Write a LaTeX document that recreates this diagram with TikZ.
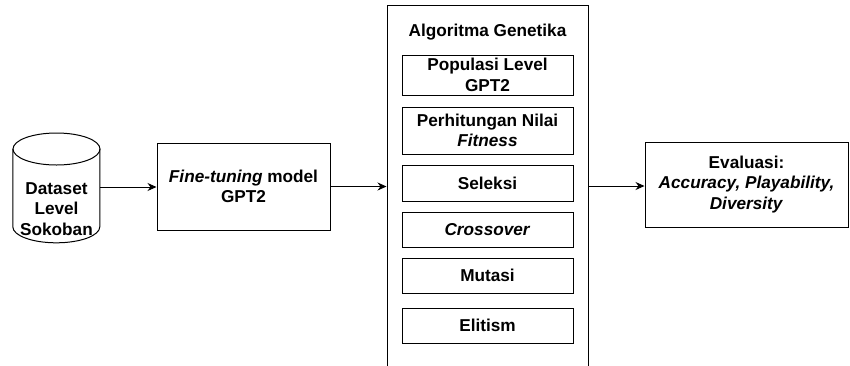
\documentclass[tikz,border=0pt]{standalone}
\usepackage{fontspec}
\setmainfont{Liberation Sans}
\usetikzlibrary{arrows.meta}
\tikzset{
  base/.style={font=\fontsize{17.2}{20.5}\selectfont\bfseries, align=center, inner sep=0pt},
  box/.style={base, draw, line width=1pt, minimum width=#1},
  box/.default=171pt,
  arr/.style={line width=1pt, -{Stealth[length=9pt,width=8pt]}}
}
\begin{document}
\begin{tikzpicture}[x=1pt,y=-1pt]
\useasboundingbox[fill=white] (0,0) rectangle (850,365);
% cylinder
\node[base, minimum width=87pt, minimum height=110pt] (ds) at (56.5,188) {};
\draw[line width=1pt, fill=white] (ds.north west) ++(0,16) -- ++(0,78)
  arc[start angle=180, end angle=360, x radius=43.5, y radius=-16] -- ++(0,-78);
\draw[line width=1pt] (56.5,149) ellipse[x radius=43.5, y radius=16];
\node[base] (dst) at (56.5,209) {Dataset\\Level\\Sokoban};
% fine-tuning
\node[box=173pt, minimum height=87pt] (ft) at (243.5,186.5) {\textit{Fine-tuning} model\\GPT2};
% GA container
\node[box=201pt, minimum height=362pt] (ga) at (487.5,186) {};
\node[base] (gat) at (487.5,32) {Algoritma Genetika};
\node[box, minimum height=40pt] (b1) at (487.5,75) {Populasi Level\\GPT2};
\node[box, minimum height=47pt] (b2) at (487.5,130.5) {Perhitungan Nilai\\\textit{Fitness}};
\node[box, minimum height=36pt] (b3) at (487.5,183) {Seleksi};
\node[box, minimum height=35pt] (b4) at (487.5,229.5) {\textit{Crossover}};
\node[box, minimum height=35pt] (b5) at (487.5,275.5) {Mutasi};
\node[box, minimum height=35pt] (b6) at (487.5,325.5) {Elitism};
% evaluasi
\node[box=203pt, minimum height=85pt] (ev) at (746.5,184.5) {Evaluasi:\\\textit{Accuracy, Playability,}\\\textit{Diversity}};
% arrows
\draw[arr] (ds.east |- 0,187) -- (ft.west |- 0,187);
\draw[arr] (ft.east) -- (ft.east -| ga.west);
\draw[arr] (ga.east) -- (ga.east -| ev.west);
\end{tikzpicture}
\end{document}
